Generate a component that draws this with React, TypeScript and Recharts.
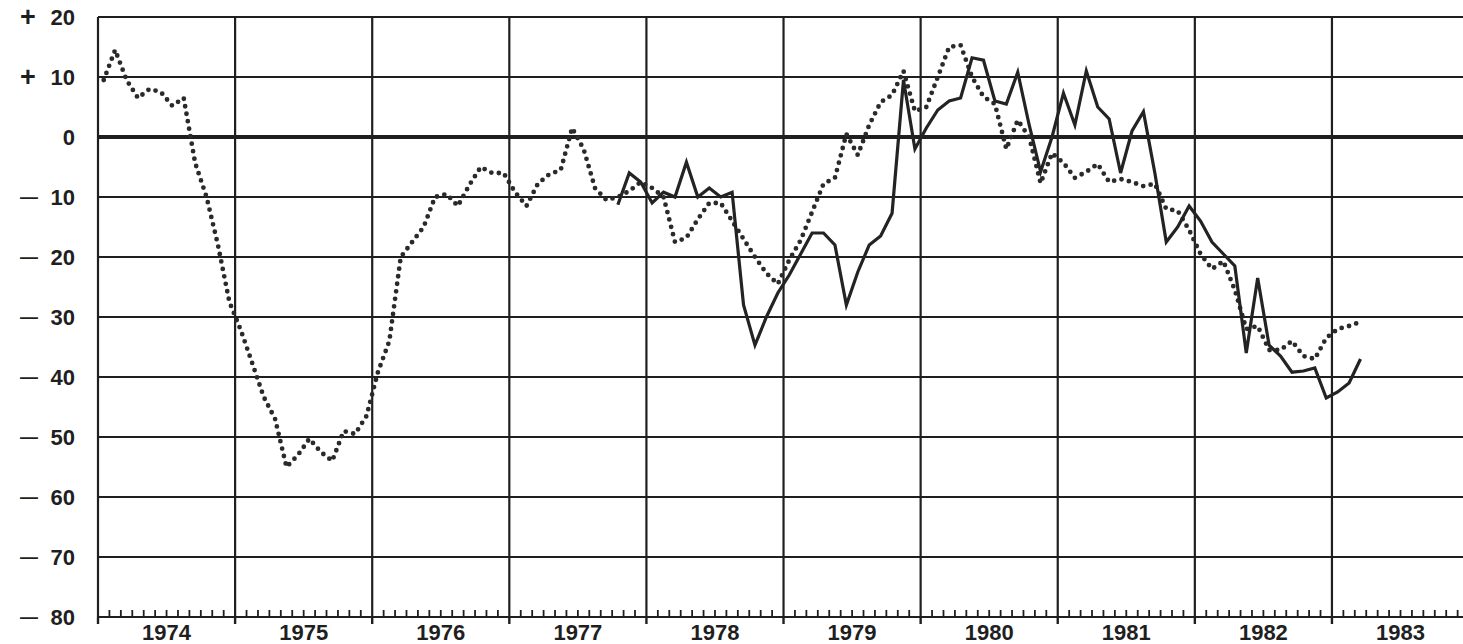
import React from "react";
import { LineChart, Line, XAxis, YAxis, ReferenceLine } from "recharts";

// months since Jan 1974, one value per month (read at mid-month)
const dotted = [
  9.5, 14.5, 9.5, 6.5, 8, 7.5, 5.2, 6.5, -4.3, -10, -18, -27.5,
  -32.2, -37.7, -43.3, -47, -55, -53, -50.3, -52.5, -54, -49, -49.5, -46.5,
  -39.2, -34, -20, -17.5, -15, -10, -9.5, -11.5, -8, -5, -6, -6,
  -9.2, -11.5, -7.8, -6.2, -5.5, 1.5, -2, -8.5, -10.5, -10, -9, -7.5,
  -8.5, -10, -17.5, -16.8, -13.7, -11, -11, -14, -17, -20, -22.7, -24.5,
  -20.5, -17.2, -12.5, -7.8, -6.8, 0.5, -3, 2, 5.8, 7, 11, 4.3,
  5, 10, 15, 15.3, 10, 6.7, 5.5, -2, 2.8, 0, -7.7, -2.7,
  -4.3, -6.8, -5.8, -4.5, -7.5, -7, -7.5, -8.2, -7.8, -12, -12.3, -15.5,
  -19.5, -22, -20.7, -25.5, -32, -31.5, -35.5, -35.5, -34, -36.5, -37, -33.5,
  -32, -31.5, -30.8,
];

// solid series starts in Oct 1977 (month index 45)
const solidStart = 45;
const solid = [
  -11.3, -6, -7.5,
  -11, -9.2, -10, -4.2, -10, -8.5, -10, -9.2, -28, -34.7, -30, -26,
  -23, -19.5, -16, -16, -18, -28, -22.5, -18, -16.5, -12.7, 9.5, -2,
  1.5, 4.5, 6, 6.5, 13.2, 12.8, 6, 5.5, 10.8, 2, -5.8, 0,
  7.3, 2, 11, 5, 3, -6, 1, 4.2, -6, -17.5, -15, -11.5,
  -14, -17.5, -19.5, -21.5, -36, -23.5, -34.7, -36.5, -39.2, -39, -38.5, -43.5,
  -42.5, -41, -37,
];

const years = ["1974", "1975", "1976", "1977", "1978", "1979", "1980", "1981", "1982", "1983"];
const yTicks = [20, 10, 0, -10, -20, -30, -40, -50, -60, -70, -80];

const W = 1463;
const H = 644;
const TOP = 17;
const X_AXIS_H = 27;
const Y_AXIS_W = 98;
const PLOT_BOTTOM = H - X_AXIS_H;
const INK = "#1f1f1f";
const FONT = "'Liberation Sans', Arial, Helvetica, sans-serif";

const data = dotted.map((v, i) => ({
  t: i + 0.5,
  dotted: v,
  solid: i >= solidStart && i - solidStart < solid.length ? solid[i - solidStart] : null,
}));

const monthTicks = Array.from({ length: years.length * 12 }, (_, i) => i);
const yearStarts = years.map((_, i) => i * 12);

function YTick({ y, payload }: any) {
  const v = payload.value as number;
  return (
    <g fill={INK} fontFamily={FONT} fontWeight={700}>
      {v > 0 && (
        <text x={28} y={y + 9} textAnchor="middle" fontSize={27}>
          +
        </text>
      )}
      {v < 0 && (
        <text x={29} y={y + 6} textAnchor="middle" fontSize={18}>
          —
        </text>
      )}
      <text x={75} y={y + 8} textAnchor="end" fontSize={22}>
        {Math.abs(v)}
      </text>
    </g>
  );
}

function XTick({ x, payload }: any) {
  const v = payload.value as number;
  if (v % 12 === 0) {
    return (
      <line x1={x} x2={x} y1={PLOT_BOTTOM} y2={PLOT_BOTTOM + 7} stroke={INK} strokeWidth={2.4} />
    );
  }
  return (
    <g>
      <line x1={x} x2={x} y1={PLOT_BOTTOM} y2={PLOT_BOTTOM - 7} stroke={INK} strokeWidth={1.8} />
      {v % 12 === 6 && (
        <text
          x={x}
          y={PLOT_BOTTOM + 23}
          textAnchor="middle"
          fill={INK}
          fontFamily={FONT}
          fontWeight={700}
          fontSize={22}
        >
          {years[Math.floor(v / 12)]}
        </text>
      )}
    </g>
  );
}

export default function App() {
  return (
    <div style={{ position: "absolute", left: 0, top: 0, width: W, height: H, background: "#fff" }}>
      <LineChart width={W} height={H} data={data} margin={{ top: TOP, right: 0, bottom: 0, left: 0 }}>
        <XAxis
          dataKey="t"
          type="number"
          domain={[0, 119.47]}
          allowDataOverflow
          ticks={monthTicks}
          interval={0}
          tick={<XTick />}
          tickLine={false}
          axisLine={false}
          height={X_AXIS_H}
        />
        <YAxis
          type="number"
          domain={[-80, 20]}
          ticks={yTicks}
          interval={0}
          tick={<YTick />}
          tickLine={false}
          axisLine={false}
          width={Y_AXIS_W}
        />
        {yTicks.map((v) => (
          <ReferenceLine key={"h" + v} y={v} stroke={INK} strokeWidth={v === 0 ? 4 : 2.2} />
        ))}
        {yearStarts.map((v) => (
          <ReferenceLine key={"v" + v} x={v} stroke={INK} strokeWidth={2.2} />
        ))}
        <Line
          type="linear"
          dataKey="dotted"
          stroke="#2a2a2a"
          strokeWidth={4.8}
          strokeDasharray="0 7.6"
          strokeLinecap="round"
          dot={false}
          activeDot={false}
          isAnimationActive={false}
        />
        <Line
          type="linear"
          dataKey="solid"
          stroke="#232323"
          strokeWidth={3.2}
          strokeLinejoin="miter"
          dot={false}
          activeDot={false}
          connectNulls={false}
          isAnimationActive={false}
        />
      </LineChart>
    </div>
  );
}
